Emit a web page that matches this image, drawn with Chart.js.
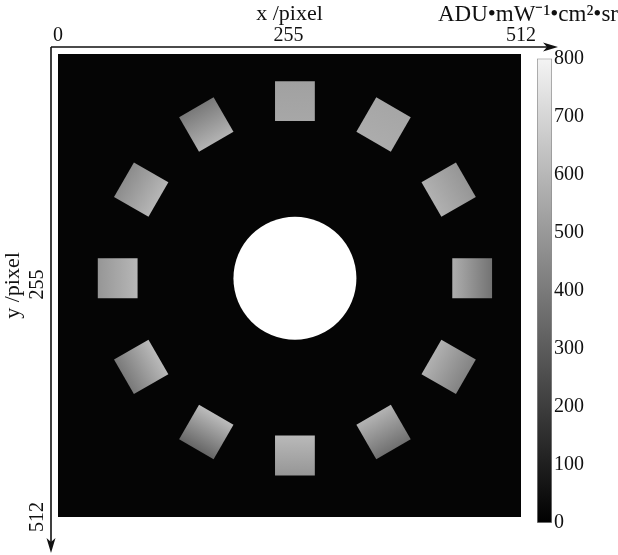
<!DOCTYPE html>
<html>
<head>
<meta charset="utf-8">
<script src="https://cdn.jsdelivr.net/npm/chart.js@4"></script>
<style>
  html, body { margin: 0; padding: 0; background: #fff; }
  #wrap { position: relative; width: 618px; height: 555px; }
  #wrap canvas { position: absolute; left: 0; top: 0; }
</style>
</head>
<body>
<div id="wrap">
  <canvas id="img" width="618" height="555"></canvas>
  <canvas id="bar" width="618" height="555"></canvas>
</div>
<script>
// tick labels
const xTicks = [0, 255, 512];
const yTicks = [255, 512];
const cbTicks = [0, 100, 200, 300, 400, 500, 600, 700, 800];

// the 12 square targets round the ring (pixel coords of the image)
const squareAngle = [0, 30, 60, 90, 120, 150, 180, 210, 240, 270, 300, 330];
const squareX = [458, 432, 360, 262, 164, 92, 66, 92, 164, 262, 360, 432];
const squareY = [248, 150, 78, 52, 78, 150, 248, 346, 418, 444, 418, 346];
// radiance (ADU) at the inner and outer edge of each square
const innerADU = [545, 555, 540, 525, 560, 570, 575, 585, 590, 580, 560, 555];
const outerADU = [360, 470, 520, 505, 380, 440, 470, 380, 320, 470, 350, 410];

// the bright disc in the middle
const holeX = [262];
const holeY = [248];

const cbMax = 800;
const unitLabel = 'ADU\u2022mW\u207B\u00B9\u2022cm\u00B2\u2022sr';

const serif = "'Liberation Serif', 'Times New Roman', serif";
const ink = '#111';
const SIDE = 44;      // square side, image pixels
const HOLE_R = 68;    // disc radius, image pixels

function grey(v) {
  const g = Math.max(0, Math.min(255, Math.round(v / cbMax * 255)));
  return 'rgb(' + g + ',' + g + ',' + g + ')';
}

function pxLen(chart, len) {
  const s = chart.scales.x;
  if (!s) return 0;
  const d = Math.abs(s.getPixelForValue(len) - s.getPixelForValue(0));
  return isFinite(d) ? d : 0;
}

function squareFill(c) {
  if (c.type !== 'data') return '#aaa';
  const chart = c.chart;
  const i = c.dataIndex;
  if (!chart.scales.x || !chart.scales.y) return grey(innerADU[i]);
  const cx = chart.scales.x.getPixelForValue(squareX[i]);
  const cy = chart.scales.y.getPixelForValue(squareY[i]);
  const th = squareAngle[i] * Math.PI / 180;
  const ux = Math.cos(th), uy = -Math.sin(th);
  const h = pxLen(chart, SIDE) / 2;
  if (!isFinite(cx) || !isFinite(cy) || !h) return grey(innerADU[i]);
  const g = chart.ctx.createLinearGradient(cx - ux * h, cy - uy * h, cx + ux * h, cy + uy * h);
  g.addColorStop(0, grey(innerADU[i]));
  g.addColorStop(1, grey(outerADU[i]));
  return g;
}

const blackPlate = {
  id: 'blackPlate',
  beforeDatasetsDraw(chart) {
    const { ctx, chartArea: a } = chart;
    ctx.save();
    ctx.fillStyle = '#050505';
    ctx.fillRect(a.left, a.top, a.width, a.height);
    ctx.restore();
  }
};

const arrows = {
  id: 'arrows',
  afterDraw(chart) {
    const { ctx, chartArea: a } = chart;
    const ox = a.left - 7, oy = a.top - 7;
    const tx = a.right + 37, ty = a.bottom + 36;
    ctx.save();
    ctx.strokeStyle = ink;
    ctx.fillStyle = ink;
    ctx.lineWidth = 1.6;
    ctx.beginPath();
    ctx.moveTo(ox, oy); ctx.lineTo(tx - 6, oy);
    ctx.moveTo(ox, oy); ctx.lineTo(ox, ty - 6);
    ctx.stroke();
    ctx.beginPath();
    ctx.moveTo(tx, oy); ctx.lineTo(tx - 15, oy - 4.5); ctx.lineTo(tx - 11, oy); ctx.lineTo(tx - 15, oy + 4.5);
    ctx.closePath();
    ctx.moveTo(ox, ty); ctx.lineTo(ox - 4.5, ty - 15); ctx.lineTo(ox, ty - 11); ctx.lineTo(ox + 4.5, ty - 15);
    ctx.closePath();
    ctx.fill();
    ctx.restore();
  }
};

const tickFont = { family: serif, size: 20 };
const titleFont = { family: serif, size: 22 };

new Chart(document.getElementById('img'), {
  type: 'scatter',
  data: {
    datasets: [
      {
        label: 'targets',
        data: squareX.map((x, i) => ({ x: x, y: squareY[i] })),
        pointStyle: 'rect',
        pointRotation: squareAngle.map(a => -a),
        pointRadius: c => pxLen(c.chart, SIDE) / Math.SQRT2,
        pointHoverRadius: c => pxLen(c.chart, SIDE) / Math.SQRT2,
        pointBackgroundColor: squareFill,
        pointBorderWidth: 0
      },
      {
        label: 'hole',
        data: holeX.map((x, i) => ({ x: x, y: holeY[i] })),
        pointStyle: 'circle',
        pointRadius: c => pxLen(c.chart, HOLE_R),
        pointHoverRadius: c => pxLen(c.chart, HOLE_R),
        pointBackgroundColor: '#ffffff',
        pointBorderWidth: 0
      }
    ]
  },
  options: {
    responsive: false,
    animation: false,
    events: [],
    layout: { padding: { left: 0, top: 0, right: 97, bottom: 38 } },
    plugins: { legend: { display: false }, tooltip: { enabled: false } },
    scales: {
      x: {
        type: 'linear', position: 'top', min: 0, max: 512,
        afterBuildTicks: s => { s.ticks = xTicks.map(v => ({ value: v })); },
        afterFit: s => { s.height = 54; },
        grid: { display: false, drawTicks: false },
        border: { display: false },
        ticks: { padding: 6, maxRotation: 0, color: ink, font: tickFont },
        title: { display: true, text: 'x /pixel', color: ink, font: titleFont, padding: { top: 1, bottom: 0 } }
      },
      y: {
        type: 'linear', position: 'left', reverse: true, min: 0, max: 512,
        afterBuildTicks: s => { s.ticks = yTicks.map(v => ({ value: v })); },
        afterFit: s => { s.width = 58; },
        grid: { display: false, drawTicks: false },
        border: { display: false },
        ticks: { minRotation: 90, maxRotation: 90, crossAlign: 'center', padding: 5, color: ink, font: tickFont },
        title: { display: true, text: 'y /pixel', color: ink, font: titleFont, padding: { top: 0, bottom: 0 } }
      }
    }
  },
  plugins: [blackPlate, arrows]
});

new Chart(document.getElementById('bar'), {
  type: 'bar',
  data: {
    labels: [''],
    datasets: [{
      data: [cbMax],
      backgroundColor: c => {
        const a = c.chart.chartArea;
        if (!a || !isFinite(a.top) || !isFinite(a.bottom)) return '#888';
        const g = c.chart.ctx.createLinearGradient(0, a.bottom, 0, a.top);
        g.addColorStop(0, '#000000');
        g.addColorStop(1, '#f4f4f4');
        return g;
      },
      borderColor: '#8c8c8c',
      borderWidth: 1,
      borderSkipped: false,
      barPercentage: 1,
      categoryPercentage: 1
    }]
  },
  options: {
    responsive: false,
    animation: false,
    events: [],
    layout: { padding: { left: 420, top: 0, right: 0, bottom: 32 } },
    plugins: {
      legend: { display: false },
      tooltip: { enabled: false },
      title: {
        display: true, text: unitLabel, align: 'end', color: ink,
        font: { family: serif, size: 23, weight: 'normal' },
        padding: { top: 1, bottom: 30 }
      }
    },
    scales: {
      x: { display: false },
      // empty spacer so the colour bar sits at the right place
      pad: {
        type: 'linear', position: 'left', display: true,
        ticks: { display: false }, grid: { display: false }, border: { display: false },
        afterFit: s => { s.width = 117; }
      },
      y: {
        position: 'right', min: 0, max: cbMax, z: 1,
        afterBuildTicks: s => { s.ticks = cbTicks.map(v => ({ value: v })); },
        afterFit: s => { s.width = 66; },
        grid: {
          drawTicks: false,
          color: c => (c.tick && (c.tick.value === 0 || c.tick.value === cbMax)) ? 'rgba(0,0,0,0)' : '#3a3a3a'
        },
        border: { display: false, dash: [4, 7] },
        ticks: { padding: 2, color: ink, font: tickFont }
      }
    }
  }
});
</script>
</body>
</html>
